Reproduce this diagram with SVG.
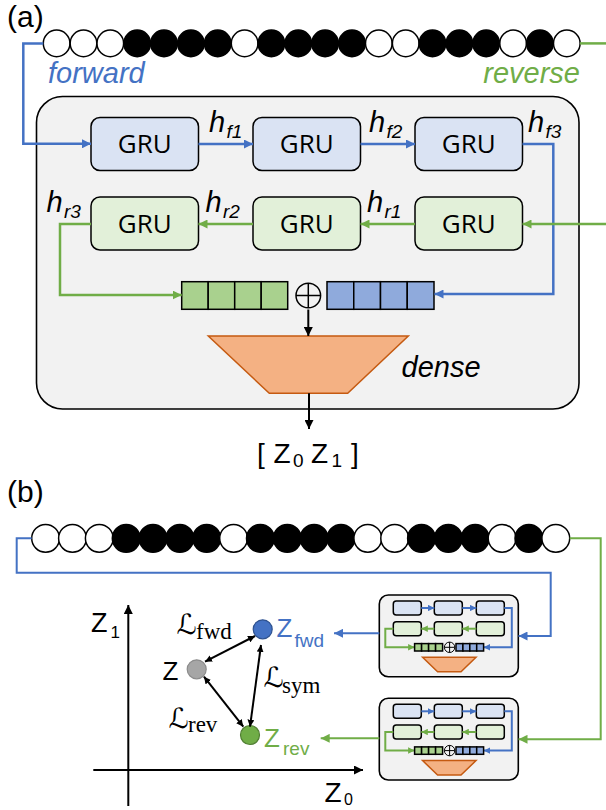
<svg xmlns="http://www.w3.org/2000/svg" width="606" height="810" viewBox="0 0 606 810">
<style>
.bw{fill:#fff;stroke:#000;stroke-width:1.5}
.bb{fill:#000;stroke:#000;stroke-width:1.5}
.outer{fill:#f2f2f2;stroke:#000;stroke-width:1.6}
.gf{fill:#dae3f3;stroke:#000;stroke-width:1.5}
.gr{fill:#e2f0d9;stroke:#000;stroke-width:1.5}
.vg{fill:#a9d18e;stroke:#000;stroke-width:1.5}
.vb{fill:#8faadc;stroke:#000;stroke-width:1.5}
.trap{fill:#f4b183;stroke:#c55a11;stroke-width:1.5}
.cb{fill:none;stroke:#4472c4;stroke-width:2.5}
.cg{fill:none;stroke:#70ad47;stroke-width:2.5}
.ck{fill:none;stroke:#000;stroke-width:2}
.cbs{fill:none;stroke:#4472c4;stroke-width:2}
.cgs{fill:none;stroke:#70ad47;stroke-width:2}
.t{font-family:"Liberation Sans",Arial,sans-serif}
.it{font-family:"Liberation Sans",Arial,sans-serif;font-style:italic}
.gru{font-family:"Open Sans","Liberation Sans",sans-serif;font-size:26px;text-anchor:middle}
.L{font-family:"Liberation Serif","DejaVu Serif","DejaVu Sans",serif}
</style>
<defs>
<marker id="ab" viewBox="0 0 10 10" refX="10" refY="5" markerUnits="userSpaceOnUse" markerWidth="9" markerHeight="9" orient="auto"><path d="M0,0 L10,5 L0,10 z" fill="#4472c4"/></marker>
<marker id="ag" viewBox="0 0 10 10" refX="10" refY="5" markerUnits="userSpaceOnUse" markerWidth="9" markerHeight="9" orient="auto"><path d="M0,0 L10,5 L0,10 z" fill="#70ad47"/></marker>
<marker id="ak" viewBox="0 0 10 10" refX="10" refY="5" markerUnits="userSpaceOnUse" markerWidth="9" markerHeight="9" orient="auto"><path d="M0,0 L10,5 L0,10 z" fill="#000"/></marker>
<marker id="ak2" viewBox="0 0 10 10" refX="10" refY="5" markerUnits="userSpaceOnUse" markerWidth="7" markerHeight="7" orient="auto-start-reverse"><path d="M0,0 L10,5 L0,10 z" fill="#000"/></marker>
<marker id="abs" viewBox="0 0 10 10" refX="10" refY="5" markerUnits="userSpaceOnUse" markerWidth="6.5" markerHeight="6.5" orient="auto"><path d="M0,0 L10,5 L0,10 z" fill="#4472c4"/></marker>
<marker id="ags" viewBox="0 0 10 10" refX="10" refY="5" markerUnits="userSpaceOnUse" markerWidth="6.5" markerHeight="6.5" orient="auto"><path d="M0,0 L10,5 L0,10 z" fill="#70ad47"/></marker>
</defs>

<text class="t" x="7" y="27" font-size="30">(a)</text>

<g id="beads-a">
<circle class="bw" cx="56.6" cy="43.4" r="13.3"/>
<circle class="bw" cx="83.5" cy="43.4" r="13.3"/>
<circle class="bw" cx="110.3" cy="43.4" r="13.3"/>
<circle class="bb" cx="137.2" cy="43.4" r="13.3"/>
<circle class="bb" cx="164" cy="43.4" r="13.3"/>
<circle class="bb" cx="190.9" cy="43.4" r="13.3"/>
<circle class="bb" cx="217.7" cy="43.4" r="13.3"/>
<circle class="bw" cx="244.6" cy="43.4" r="13.3"/>
<circle class="bb" cx="271.4" cy="43.4" r="13.3"/>
<circle class="bb" cx="298.3" cy="43.4" r="13.3"/>
<circle class="bb" cx="325.1" cy="43.4" r="13.3"/>
<circle class="bb" cx="352" cy="43.4" r="13.3"/>
<circle class="bw" cx="378.8" cy="43.4" r="13.3"/>
<circle class="bw" cx="405.7" cy="43.4" r="13.3"/>
<circle class="bb" cx="432.5" cy="43.4" r="13.3"/>
<circle class="bb" cx="459.4" cy="43.4" r="13.3"/>
<circle class="bb" cx="486.2" cy="43.4" r="13.3"/>
<circle class="bw" cx="513.1" cy="43.4" r="13.3"/>
<circle class="bb" cx="539.9" cy="43.4" r="13.3"/>
<circle class="bw" cx="566.8" cy="43.4" r="13.3"/>
</g>

<text class="it" x="48" y="83" font-size="29" fill="#4472c4">forward</text>
<text class="it" x="580" y="83" font-size="29" fill="#70ad47" text-anchor="end">reverse</text>

<g id="encoder-a">
<rect class="outer" x="36.5" y="96.5" width="542.5" height="312.5" rx="26"/>
</g>

<g id="gru-f1"><rect class="gf" x="91" y="117.5" width="107.5" height="53" rx="9"/><text class="gru" x="144.7" y="153.3">GRU</text></g>
<g id="gru-f2"><rect class="gf" x="253" y="117.5" width="107.5" height="53" rx="9"/><text class="gru" x="306.7" y="153.3">GRU</text></g>
<g id="gru-f3"><rect class="gf" x="415" y="117.5" width="107.5" height="53" rx="9"/><text class="gru" x="468.7" y="153.3">GRU</text></g>
<g id="gru-r3"><rect class="gr" x="91" y="197" width="107.5" height="53" rx="9"/><text class="gru" x="144.7" y="232.8">GRU</text></g>
<g id="gru-r2"><rect class="gr" x="253" y="197" width="107.5" height="53" rx="9"/><text class="gru" x="306.7" y="232.8">GRU</text></g>
<g id="gru-r1"><rect class="gr" x="415" y="197" width="107.5" height="53" rx="9"/><text class="gru" x="468.7" y="232.8">GRU</text></g>

<g id="vec-green">
<rect class="vg" x="181.7" y="281.7" width="26.5" height="27.6"/>
<rect class="vg" x="208.2" y="281.7" width="26.5" height="27.6"/>
<rect class="vg" x="234.7" y="281.7" width="26.5" height="27.6"/>
<rect class="vg" x="261.2" y="281.7" width="26.5" height="27.6"/>
</g>
<g id="concat">
<circle cx="308.3" cy="295.5" r="12.3" fill="none" stroke="#000" stroke-width="1.5"/>
<path d="M296,295.5 H320.6 M308.3,283.2 V307.8" stroke="#000" stroke-width="1.5"/>
</g>
<g id="vec-blue">
<rect class="vb" x="327" y="281.7" width="26.75" height="27.6"/>
<rect class="vb" x="353.75" y="281.7" width="26.75" height="27.6"/>
<rect class="vb" x="380.5" y="281.7" width="26.75" height="27.6"/>
<rect class="vb" x="407.25" y="281.7" width="26.75" height="27.6"/>
</g>
<g id="dense">
<path class="trap" d="M208.3,336 H408.3 L347.7,393.3 H269.3 Z"/>
<text class="it" x="401.5" y="377" font-size="29">dense</text>
</g>

<g id="labels-h" class="it">
<text x="209" y="131.7" font-size="29">h</text><text x="226.5" y="137.7" font-size="19">f1</text>
<text x="369" y="131.7" font-size="29">h</text><text x="386.5" y="137.7" font-size="19">f2</text>
<text x="528" y="131.7" font-size="29">h</text><text x="545.5" y="137.7" font-size="19">f3</text>
<text x="46.5" y="211.7" font-size="29">h</text><text x="64" y="218" font-size="19">r3</text>
<text x="205.5" y="211.7" font-size="29">h</text><text x="223" y="218" font-size="19">r2</text>
<text x="367" y="211.7" font-size="29">h</text><text x="384.5" y="218" font-size="19">r1</text>
</g>

<g id="output-a" class="t">
<text x="257" y="462.7" font-size="28">[</text>
<text x="273.5" y="462.7" font-size="28">Z</text><text x="293" y="467" font-size="19">0</text>
<text x="311" y="462.7" font-size="28">Z</text><text x="331.5" y="467" font-size="19">1</text>
<text x="351" y="462.7" font-size="28">]</text>
</g>

<g id="connectors-a">
<path class="cb" d="M43.3,43.4 H23.3 V143.8 H91" marker-end="url(#ab)"/>
<path class="cb" d="M198.5,144 H253" marker-end="url(#ab)"/>
<path class="cb" d="M360.5,144 H415" marker-end="url(#ab)"/>
<path class="cb" d="M522.5,144 H553.3 V294 H434.5" marker-end="url(#ab)"/>
<path class="cg" d="M580,43.4 H606"/>
<path class="cg" d="M606,224 H522.5" marker-end="url(#ag)"/>
<path class="cg" d="M415,224 H360.5" marker-end="url(#ag)"/>
<path class="cg" d="M253,224 H198.5" marker-end="url(#ag)"/>
<path class="cg" d="M91,224 H60 V295 H181.7" marker-end="url(#ag)"/>
<path class="ck" d="M308.3,309.5 V336" marker-end="url(#ak)"/>
<path class="ck" d="M309,393.3 V429" marker-end="url(#ak)"/>
</g>

<text class="t" x="7" y="502" font-size="30">(b)</text>

<g id="beads-b">
<circle class="bw" cx="45.6" cy="538.3" r="13.9"/>
<circle class="bw" cx="72.5" cy="538.3" r="13.9"/>
<circle class="bw" cx="99.3" cy="538.3" r="13.9"/>
<circle class="bb" cx="126.2" cy="538.3" r="13.9"/>
<circle class="bb" cx="153" cy="538.3" r="13.9"/>
<circle class="bb" cx="179.9" cy="538.3" r="13.9"/>
<circle class="bb" cx="206.7" cy="538.3" r="13.9"/>
<circle class="bw" cx="233.6" cy="538.3" r="13.9"/>
<circle class="bb" cx="260.4" cy="538.3" r="13.9"/>
<circle class="bb" cx="287.3" cy="538.3" r="13.9"/>
<circle class="bb" cx="314.1" cy="538.3" r="13.9"/>
<circle class="bb" cx="341" cy="538.3" r="13.9"/>
<circle class="bw" cx="367.8" cy="538.3" r="13.9"/>
<circle class="bw" cx="394.7" cy="538.3" r="13.9"/>
<circle class="bb" cx="421.5" cy="538.3" r="13.9"/>
<circle class="bb" cx="448.4" cy="538.3" r="13.9"/>
<circle class="bb" cx="475.2" cy="538.3" r="13.9"/>
<circle class="bw" cx="502.1" cy="538.3" r="13.9"/>
<circle class="bb" cx="528.9" cy="538.3" r="13.9"/>
<circle class="bw" cx="555.8" cy="538.3" r="13.9"/>
</g>

<g id="mini-fwd" transform="translate(379.3,595)">
<rect class="outer" x="0" y="0" width="139" height="81.7" rx="9"/>
<rect class="gf" x="14" y="6" width="28" height="14" rx="3"/>
<rect class="gf" x="55" y="6" width="28" height="14" rx="3"/>
<rect class="gf" x="97" y="6" width="28" height="14" rx="3"/>
<rect class="gr" x="14" y="26.7" width="28" height="14" rx="3"/>
<rect class="gr" x="55" y="26.7" width="28" height="14" rx="3"/>
<rect class="gr" x="97" y="26.7" width="28" height="14" rx="3"/>
<path class="cbs" d="M42,13 H55" marker-end="url(#abs)"/>
<path class="cbs" d="M83,13 H97" marker-end="url(#abs)"/>
<path class="cbs" d="M125,13 H132.5 V52.3 H104.3" marker-end="url(#abs)"/>
<path class="cgs" d="M97,33.7 H83" marker-end="url(#ags)"/>
<path class="cgs" d="M55,33.7 H42" marker-end="url(#ags)"/>
<path class="cgs" d="M14,33.7 H6 V52.3 H35.3" marker-end="url(#ags)"/>
<rect class="vg" x="35.3" y="48.6" width="7" height="7.4" stroke-width="1.2"/>
<rect class="vg" x="42.3" y="48.6" width="7" height="7.4" stroke-width="1.2"/>
<rect class="vg" x="49.3" y="48.6" width="7" height="7.4" stroke-width="1.2"/>
<rect class="vg" x="56.3" y="48.6" width="7" height="7.4" stroke-width="1.2"/>
<circle cx="70.3" cy="52.3" r="5.2" fill="none" stroke="#000" stroke-width="1"/>
<path d="M65.1,52.3 H75.5 M70.3,47.1 V57.5" stroke="#000" stroke-width="1"/>
<rect class="vb" x="76.7" y="48.6" width="6.9" height="7.4" stroke-width="1.2"/>
<rect class="vb" x="83.6" y="48.6" width="6.9" height="7.4" stroke-width="1.2"/>
<rect class="vb" x="90.5" y="48.6" width="6.9" height="7.4" stroke-width="1.2"/>
<rect class="vb" x="97.4" y="48.6" width="6.9" height="7.4" stroke-width="1.2"/>
<path class="trap" d="M43.3,62.3 H96.7 L81.7,76.7 H58.3 Z"/>
</g>

<g id="mini-rev" transform="translate(379.3,698.3)">
<rect class="outer" x="0" y="0" width="139" height="81.7" rx="9"/>
<rect class="gf" x="14" y="6" width="28" height="14" rx="3"/>
<rect class="gf" x="55" y="6" width="28" height="14" rx="3"/>
<rect class="gf" x="97" y="6" width="28" height="14" rx="3"/>
<rect class="gr" x="14" y="26.7" width="28" height="14" rx="3"/>
<rect class="gr" x="55" y="26.7" width="28" height="14" rx="3"/>
<rect class="gr" x="97" y="26.7" width="28" height="14" rx="3"/>
<path class="cbs" d="M42,13 H55" marker-end="url(#abs)"/>
<path class="cbs" d="M83,13 H97" marker-end="url(#abs)"/>
<path class="cbs" d="M125,13 H132.5 V52.3 H104.3" marker-end="url(#abs)"/>
<path class="cgs" d="M97,33.7 H83" marker-end="url(#ags)"/>
<path class="cgs" d="M55,33.7 H42" marker-end="url(#ags)"/>
<path class="cgs" d="M14,33.7 H6 V52.3 H35.3" marker-end="url(#ags)"/>
<rect class="vg" x="35.3" y="48.6" width="7" height="7.4" stroke-width="1.2"/>
<rect class="vg" x="42.3" y="48.6" width="7" height="7.4" stroke-width="1.2"/>
<rect class="vg" x="49.3" y="48.6" width="7" height="7.4" stroke-width="1.2"/>
<rect class="vg" x="56.3" y="48.6" width="7" height="7.4" stroke-width="1.2"/>
<circle cx="70.3" cy="52.3" r="5.2" fill="none" stroke="#000" stroke-width="1"/>
<path d="M65.1,52.3 H75.5 M70.3,47.1 V57.5" stroke="#000" stroke-width="1"/>
<rect class="vb" x="76.7" y="48.6" width="6.9" height="7.4" stroke-width="1.2"/>
<rect class="vb" x="83.6" y="48.6" width="6.9" height="7.4" stroke-width="1.2"/>
<rect class="vb" x="90.5" y="48.6" width="6.9" height="7.4" stroke-width="1.2"/>
<rect class="vb" x="97.4" y="48.6" width="6.9" height="7.4" stroke-width="1.2"/>
<path class="trap" d="M43.3,62.3 H96.7 L81.7,76.7 H58.3 Z"/>
</g>

<g id="axes">
<path class="ck" d="M128.3,806 V605" marker-end="url(#ak)"/>
<path class="ck" d="M93.3,770 H363" marker-end="url(#ak)"/>
<text class="t" x="91" y="632" font-size="27">Z</text><text class="t" x="110.5" y="637.5" font-size="17">1</text>
<text class="t" x="324.5" y="801.5" font-size="28">Z</text><text class="t" x="344" y="805" font-size="16">0</text>
</g>

<g id="point-z">
<circle cx="196.7" cy="669.3" r="9.5" fill="#a6a6a6" stroke="#8c8c8c" stroke-width="1.2"/>
<text class="t" x="162.5" y="680" font-size="26">Z</text>
</g>
<g id="point-zfwd">
<circle cx="262.7" cy="629.3" r="9.5" fill="#4472c4" stroke="#2f528f" stroke-width="1.2"/>
<text class="t" x="276.5" y="637" font-size="26" fill="#4472c4">Z</text><text class="t" x="294.5" y="646.5" font-size="19" fill="#4472c4">fwd</text>
</g>
<g id="point-zrev">
<circle cx="250" cy="735" r="9.5" fill="#70ad47" stroke="#507e32" stroke-width="1.2"/>
<text class="t" x="264" y="747" font-size="26" fill="#70ad47">Z</text><text class="t" x="283" y="755" font-size="19" fill="#70ad47">rev</text>
</g>

<g id="loss-labels" class="L">
<text x="176.5" y="634" font-size="28">ℒ</text><text x="196" y="639" font-size="23">fwd</text>
<text x="263.5" y="687" font-size="28">ℒ</text><text x="282" y="692.5" font-size="23">sym</text>
<text x="168.5" y="727.5" font-size="28">ℒ</text><text x="188" y="732" font-size="23">rev</text>
</g>

<g id="connectors-b">
<path class="cbs" d="M31.7,538.3 H16.7 V572.7 H550.7 V636 H518.5" marker-end="url(#ab)"/>
<path class="cgs" d="M569.7,538.3 H600.7 V739.3 H518.5" marker-end="url(#ag)"/>
<path class="cbs" d="M379.3,633.3 H334" marker-end="url(#ab)"/>
<path class="cgs" d="M379.3,738.3 H320.7" marker-end="url(#ag)"/>
<path class="ck" stroke-width="1.5" d="M205,661.7 L255,636" marker-start="url(#ak2)" marker-end="url(#ak2)"/>
<path class="ck" stroke-width="1.5" d="M261,645 L250,726.7" marker-start="url(#ak2)" marker-end="url(#ak2)"/>
<path class="ck" stroke-width="1.5" d="M204,676.7 L243.3,726.7" marker-start="url(#ak2)" marker-end="url(#ak2)"/>
</g>
</svg>
